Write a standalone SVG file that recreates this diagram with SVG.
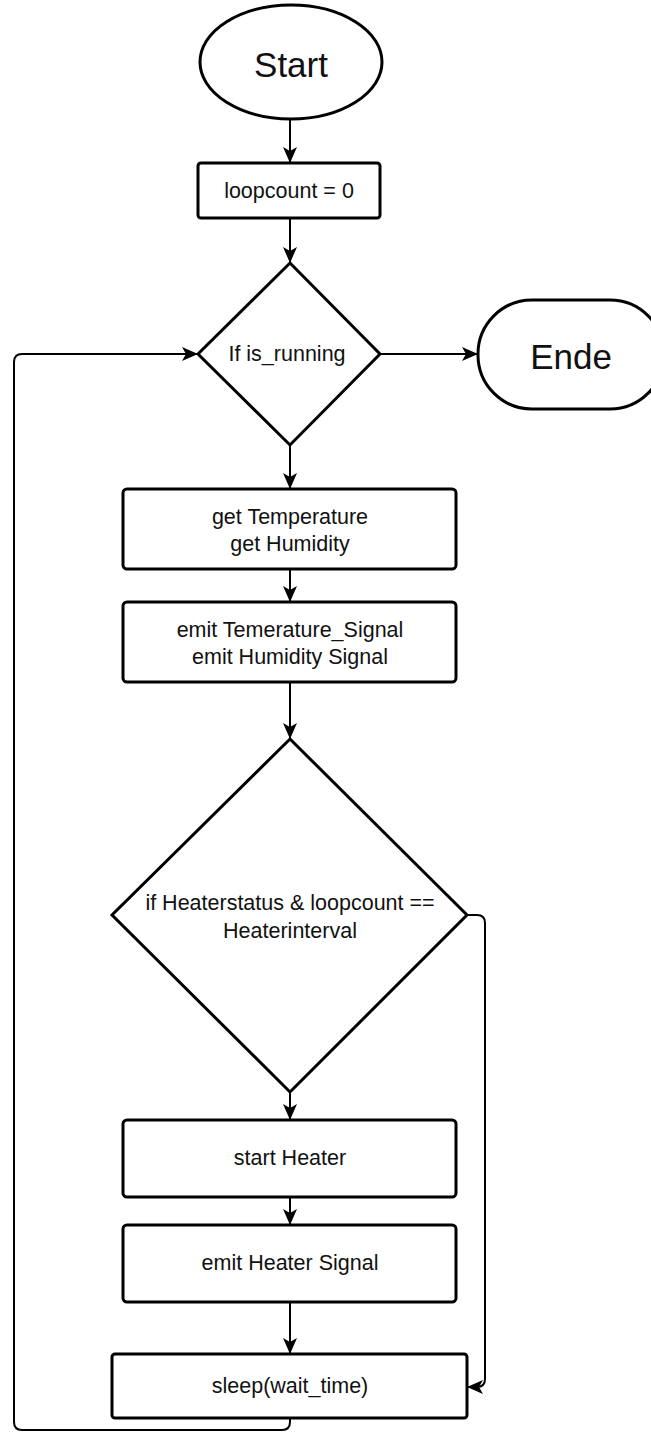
<svg xmlns="http://www.w3.org/2000/svg" width="651" height="1432" viewBox="0 0 651 1432">
  <defs>
    <marker id="arrow" markerUnits="userSpaceOnUse" markerWidth="16" markerHeight="14" refX="15" refY="7" orient="auto">
      <path d="M0,0 L16,7 L0,14 L4,7 Z" fill="#000"/>
    </marker>
    <style>
      .shape { fill: #fff; stroke: #000; stroke-width: 3; }
      .edge { fill: none; stroke: #000; stroke-width: 2; marker-end: url(#arrow); }
      .lbl { font-family: "Liberation Sans", Arial, sans-serif; font-size: 21.5px; fill: #111; text-anchor: middle; dominant-baseline: central; }
      .big { font-size: 35px; }
    </style>
  </defs>
  <rect width="651" height="1432" fill="#fff"/>

  <!-- connectors -->
  <g id="connectors">
    <path class="edge" d="M290,120 L290,162"/>
    <path class="edge" d="M290,218 L290,262"/>
    <path class="edge" d="M380,354 L477,354"/>
    <path class="edge" d="M290,445 L290,488"/>
    <path class="edge" d="M290,569 L290,601"/>
    <path class="edge" d="M290,682 L290,738"/>
    <path class="edge" d="M290,1092 L290,1119"/>
    <path class="edge" d="M290,1197 L290,1224"/>
    <path class="edge" d="M290,1302 L290,1353"/>
    <!-- no branch: around the heater steps into sleep -->
    <path class="edge" d="M467,915 L477,915 Q485,915 485,923 L485,1379 Q485,1387 477,1387 L468,1387"/>
    <!-- loop back from sleep to the running check -->
    <path class="edge" d="M290,1418 L290,1422 Q290,1430 282,1430 L22,1430 Q14,1430 14,1422 L14,362 Q14,354 22,354 L197,354"/>
  </g>

  <g id="start">
    <ellipse class="shape" cx="291" cy="62" rx="91" ry="57"/>
    <text class="lbl big" x="291" y="64">Start</text>
  </g>

  <g id="init">
    <rect class="shape" x="198" y="163" width="182" height="55" rx="3"/>
    <text class="lbl" x="289" y="191">loopcount = 0</text>
  </g>

  <g id="check-running">
    <polygon class="shape" points="290,263 380,354 290,445 198,354"/>
    <text class="lbl" x="287" y="354" font-size="20">If is_running</text>
  </g>

  <g id="end">
    <rect class="shape" x="478" y="300" width="186" height="109" rx="54" ry="54"/>
    <text class="lbl big" x="571" y="356">Ende</text>
  </g>

  <g id="read-sensors">
    <rect class="shape" x="123" y="489" width="333" height="80" rx="4"/>
    <text class="lbl" x="290" y="517">get Temperature</text>
    <text class="lbl" x="290" y="544">get Humidity</text>
  </g>

  <g id="emit-sensors">
    <rect class="shape" x="123" y="602" width="333" height="80" rx="4"/>
    <text class="lbl" x="290" y="630">emit Temerature_Signal</text>
    <text class="lbl" x="290" y="657">emit Humidity Signal</text>
  </g>

  <g id="check-heater">
    <polygon class="shape" points="290,739 467,915 290,1092 112,915"/>
    <text class="lbl" x="290" y="903" font-size="22">if Heaterstatus &amp; loopcount ==</text>
    <text class="lbl" x="290" y="931" font-size="22">Heaterinterval</text>
  </g>

  <g id="start-heater">
    <rect class="shape" x="123" y="1120" width="333" height="77" rx="4"/>
    <text class="lbl" x="290" y="1158">start Heater</text>
  </g>

  <g id="emit-heater">
    <rect class="shape" x="123" y="1225" width="333" height="77" rx="4"/>
    <text class="lbl" x="290" y="1263">emit Heater Signal</text>
  </g>

  <g id="sleep">
    <rect class="shape" x="112" y="1354" width="355" height="64" rx="3"/>
    <text class="lbl" x="290" y="1386">sleep(wait_time)</text>
  </g>
</svg>
